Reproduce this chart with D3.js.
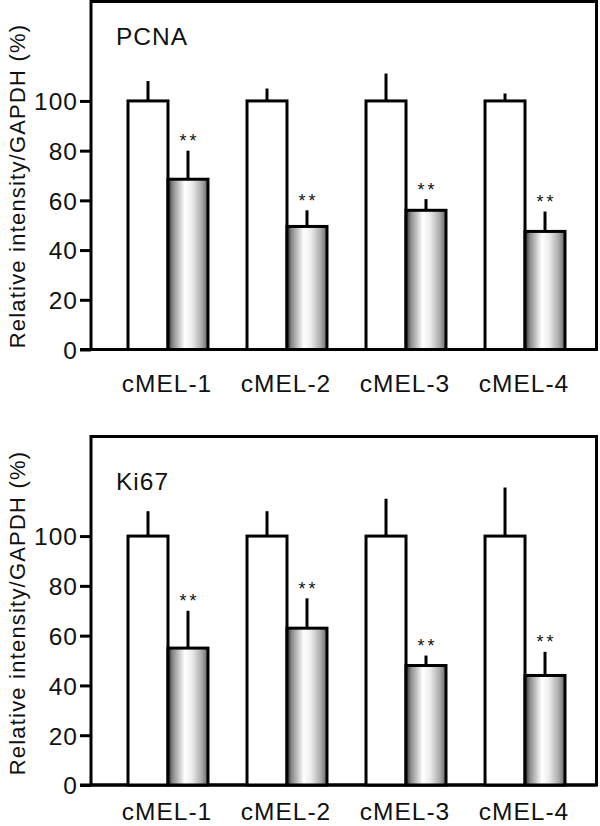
<!DOCTYPE html>
<html>
<head>
<meta charset="utf-8">
<script src="https://cdn.jsdelivr.net/npm/d3@7"></script>
<style>
  html, body { margin: 0; padding: 0; background: #fff; }
  svg { display: block; }
  text { font-family: "Liberation Sans", Arial, Helvetica, sans-serif; fill: #111; }
</style>
</head>
<body>
<svg id="chart" width="600" height="826"></svg>
<script>
// ---- data ----
const categories = ["cMEL-1", "cMEL-2", "cMEL-3", "cMEL-4"];
const series = ["control", "treated"];
const yTicks = [0, 20, 40, 60, 80, 100];

const pcnaControl    = [100, 100, 100, 100];
const pcnaControlErr = [108, 105, 111, 103];   // top of error bar
const pcnaTreated    = [68.5, 49.5, 56, 47.5];
const pcnaTreatedErr = [80, 56, 60.5, 55.5];

const ki67Control    = [100, 100, 100, 100];
const ki67ControlErr = [110, 110, 115, 119.5];
const ki67Treated    = [55, 63, 48, 44];
const ki67TreatedErr = [70, 75, 52, 53.5];

const panelTitles = ["PCNA", "Ki67"];
const yTitle = "Relative intensity/GAPDH (%)";
const sigLabel = "**";

// ---- drawing ----
const svg = d3.select("#chart");
const defs = svg.append("defs");
const grad = defs.append("linearGradient").attr("id", "barGrad")
  .attr("x1", "0%").attr("x2", "100%").attr("y1", "0%").attr("y2", "0%");
[[0, "#2e2e2e"], [0.12, "#8a8a8a"], [0.42, "#ffffff"], [0.6, "#ececec"], [0.85, "#a8a8a8"], [1, "#666666"]]
  .forEach(([o, c]) => grad.append("stop").attr("offset", o).attr("stop-color", c));

const panels = [
  { title: panelTitles[0], ctrl: pcnaControl, ctrlErr: pcnaControlErr, trt: pcnaTreated, trtErr: pcnaTreatedErr,
    top: 1.5, bottom: 349.5, labelY: 392, titleY: 45, yTitleC: 186 },
  { title: panelTitles[1], ctrl: ki67Control, ctrlErr: ki67ControlErr, trt: ki67Treated, trtErr: ki67TreatedErr,
    top: 436.5, bottom: 785, labelY: 820, titleY: 489.5, yTitleC: 613 }
];

const frameL = 91, frameR = 596.5;
const fs = 24.5, ls = 1;

panels.forEach(p => {
  const g = svg.append("g");
  const y = d3.scaleLinear().domain([0, 140]).range([p.bottom, p.top]);
  const x = d3.scaleBand().domain(categories).range([128, 565]).paddingInner(0.328).paddingOuter(0);
  const xs = d3.scaleBand().domain(series).range([0, x.bandwidth()]);

  // frame
  g.append("rect").attr("x", frameL).attr("y", p.top).attr("width", frameR - frameL).attr("height", p.bottom - p.top)
    .attr("fill", "none").attr("stroke", "#000").attr("stroke-width", 3);

  // y axis ticks
  const yAxis = d3.axisLeft(y).tickValues(yTicks).tickSize(11).tickPadding(3).tickFormat(d3.format("d"));
  const ya = g.append("g").attr("transform", `translate(${frameL},0)`).call(yAxis);
  ya.select(".domain").remove();
  ya.selectAll(".tick line").attr("stroke", "#000").attr("stroke-width", 3);
  ya.selectAll(".tick text").attr("font-size", fs).attr("letter-spacing", ls)
    .attr("fill", "#111").attr("dy", "0.36em").attr("x", -13);
  // baseline extension to the left
  g.append("line").attr("x1", frameL - 11).attr("x2", frameR).attr("y1", y(0)).attr("y2", y(0))
    .attr("stroke", "#000").attr("stroke-width", 3);

  // bars
  const rows = categories.map((c, i) => [
    { c, s: "control", v: p.ctrl[i], e: p.ctrlErr[i] },
    { c, s: "treated", v: p.trt[i], e: p.trtErr[i] }
  ]).flat();

  // error bars (drawn first so bar outline sits on top)
  g.selectAll(".err").data(rows).join("line").attr("class", "err")
    .attr("x1", d => x(d.c) + xs(d.s) + xs.bandwidth() / 2)
    .attr("x2", d => x(d.c) + xs(d.s) + xs.bandwidth() / 2)
    .attr("y1", d => y(d.v)).attr("y2", d => y(d.e))
    .attr("stroke", "#000").attr("stroke-width", 3);

  g.selectAll(".bar").data(rows).join("rect").attr("class", "bar")
    .attr("x", d => x(d.c) + xs(d.s)).attr("width", xs.bandwidth())
    .attr("y", d => y(d.v)).attr("height", d => y(0) - y(d.v))
    .attr("fill", d => d.s === "control" ? "#fff" : "url(#barGrad)")
    .attr("stroke", "#000").attr("stroke-width", 3);

  // significance stars
  g.selectAll(".sig").data(rows.filter(d => d.s === "treated")).join("text").attr("class", "sig")
    .attr("x", d => x(d.c) + xs(d.s) + xs.bandwidth() / 2 + 1.5)
    .attr("y", d => y(d.e) - 3.5)
    .attr("text-anchor", "middle").attr("font-size", 18).attr("letter-spacing", 3)
    .text(sigLabel);

  // x labels
  g.selectAll(".xl").data(categories).join("text").attr("class", "xl")
    .attr("x", d => x(d) + x.bandwidth() / 2 - 1).attr("y", p.labelY)
    .attr("text-anchor", "middle").attr("font-size", fs).attr("letter-spacing", ls)
    .text(d => d);

  // panel title
  g.append("text").attr("x", 116).attr("y", p.titleY).attr("font-size", fs).attr("letter-spacing", ls)
    .text(p.title);

  // y title
  g.append("text").attr("transform", `translate(24.5,${p.yTitleC}) rotate(-90)`)
    .attr("text-anchor", "middle").attr("font-size", 22).attr("letter-spacing", 1.2)
    .text(yTitle);
});
</script>
</body>
</html>
